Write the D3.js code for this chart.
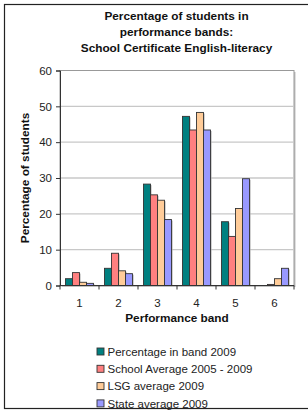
<!DOCTYPE html>
<html>
<head>
<meta charset="utf-8">
<script src="https://cdn.jsdelivr.net/npm/d3@7"></script>
<style>
  body { margin: 0; background: #fff; }
  svg { display: block; font-family: "Liberation Sans", Arial, sans-serif; }
</style>
</head>
<body>
<div id="chart"></div>
<script>
// chart data
var bands = ['1', '2', '3', '4', '5', '6'];
var seriesNames = ['Percentage in band 2009', 'School Average 2005 - 2009', 'LSG average 2009', 'State average 2009'];
var bandPct2009 = [1.9, 4.8, 28.3, 47.2, 17.8, 0];
var schoolAvg = [3.6, 9.0, 25.3, 43.4, 13.7, 0.3];
var lsgAvg = [0.9, 4.1, 23.8, 48.3, 21.5, 1.9];
var stateAvg = [0.6, 3.3, 18.4, 43.4, 29.8, 4.8];
var yTicks = [0, 10, 20, 30, 40, 50, 60];
var colors = ['#008080', '#ff8080', '#ffcc99', '#9999ff'];

var allSeries = [bandPct2009, schoolAvg, lsgAvg, stateAvg];

var width = 308, height = 410;
var margin = { top: 70.5, right: 14, bottom: 125, left: 60 };

var svg = d3.select('#chart').append('svg')
  .attr('width', width)
  .attr('height', height);

// outer frame
svg.append('rect')
  .attr('x', 4.5).attr('y', 4.5)
  .attr('width', 310).attr('height', 404)
  .attr('fill', 'none')
  .attr('stroke', '#222')
  .attr('stroke-width', 1.2);

var x0 = d3.scaleBand()
  .domain(bands)
  .range([margin.left, width - margin.right])
  .paddingInner(0.28)
  .paddingOuter(0.14);

var x1 = d3.scaleBand()
  .domain(d3.range(allSeries.length))
  .range([0, x0.bandwidth()]);

var y = d3.scaleLinear()
  .domain([0, 60])
  .range([285.5, margin.top]);

var plotL = margin.left, plotR = width - margin.right;

// plot area shadow + border
svg.append('rect')
  .attr('x', plotL + 1.5).attr('y', y(60) + 1.5)
  .attr('width', plotR - plotL).attr('height', y(0) - y(60))
  .attr('fill', '#c0c0c0');
svg.append('rect')
  .attr('x', plotL).attr('y', y(60))
  .attr('width', plotR - plotL).attr('height', y(0) - y(60))
  .attr('fill', '#fff')
  .attr('stroke', '#999')
  .attr('stroke-width', 1);

// gridlines
svg.append('g')
  .selectAll('line')
  .data(yTicks.filter(function (d) { return d > 0 && d < 60; }))
  .enter().append('line')
  .attr('x1', plotL).attr('x2', plotR)
  .attr('y1', function (d) { return y(d); })
  .attr('y2', function (d) { return y(d); })
  .attr('stroke', '#c8c8c8')
  .attr('stroke-width', 1.3);

// bars, one group per band
var groups = svg.append('g')
  .selectAll('g')
  .data(bands)
  .enter().append('g')
  .attr('transform', function (d) { return 'translate(' + x0(d) + ',0)'; });

groups.selectAll('rect.shadow')
  .data(function (d, i) { return allSeries.map(function (s, k) { return { k: k, v: s[i] }; }); })
  .enter().append('rect')
  .attr('class', 'shadow')
  .attr('x', function (d) { return x1(d.k) + 1; })
  .attr('y', function (d) { return y(d.v) + 1; })
  .attr('width', x1.bandwidth())
  .attr('height', function (d) { return Math.max(0, y(0) - y(d.v) - 1); })
  .attr('fill', '#aaa');

groups.selectAll('rect.bar')
  .data(function (d, i) { return allSeries.map(function (s, k) { return { k: k, v: s[i] }; }); })
  .enter().append('rect')
  .attr('class', 'bar')
  .attr('x', function (d) { return x1(d.k); })
  .attr('y', function (d) { return y(d.v); })
  .attr('width', x1.bandwidth())
  .attr('height', function (d) { return y(0) - y(d.v); })
  .attr('fill', function (d) { return colors[d.k]; })
  .attr('stroke', '#333')
  .attr('stroke-width', 0.9);

// y axis
var yAxis = svg.append('g')
  .attr('transform', 'translate(' + plotL + ',0)')
  .call(d3.axisLeft(y).tickValues(yTicks).tickSize(4).tickPadding(4));
yAxis.select('.domain').attr('stroke', '#333');
yAxis.selectAll('.tick line').attr('stroke', '#333');
yAxis.selectAll('text').attr('font-size', 11.5).attr('fill', '#222')
  .attr('font-family', '"Liberation Sans", Arial, sans-serif');

// x axis, ticks between bands
var xAxis = svg.append('g')
  .attr('transform', 'translate(0,' + y(0) + ')');
xAxis.append('line')
  .attr('x1', plotL).attr('x2', plotR)
  .attr('stroke', '#333');
xAxis.selectAll('line.tk')
  .data(d3.range(bands.length + 1))
  .enter().append('line')
  .attr('class', 'tk')
  .attr('x1', function (i) { return plotL + i * (plotR - plotL) / bands.length; })
  .attr('x2', function (i) { return plotL + i * (plotR - plotL) / bands.length; })
  .attr('y1', 0).attr('y2', 4)
  .attr('stroke', '#333');
xAxis.selectAll('text')
  .data(bands)
  .enter().append('text')
  .attr('x', function (d) { return x0(d) + x0.bandwidth() / 2; })
  .attr('y', 21)
  .attr('text-anchor', 'middle')
  .attr('font-size', 11.5)
  .attr('fill', '#222')
  .text(function (d) { return d; });

// titles
var title = ['Percentage of students in', 'performance bands:', 'School Certificate English-literacy'];
svg.append('g').selectAll('text')
  .data(title)
  .enter().append('text')
  .attr('x', 176.5)
  .attr('y', function (d, i) { return 20 + i * 16; })
  .attr('text-anchor', 'middle')
  .attr('font-size', 11.8)
  .attr('font-weight', 'bold')
  .attr('fill', '#111')
  .text(function (d) { return d; });

svg.append('text')
  .attr('x', (plotL + plotR) / 2)
  .attr('y', 322)
  .attr('text-anchor', 'middle')
  .attr('font-size', 11.8)
  .attr('font-weight', 'bold')
  .attr('fill', '#111')
  .text('Performance band');

svg.append('text')
  .attr('transform', 'translate(29,' + (y(0) + y(60)) / 2 + ') rotate(-90)')
  .attr('text-anchor', 'middle')
  .attr('font-size', 11.8)
  .attr('font-weight', 'bold')
  .attr('fill', '#111')
  .text('Percentage of students');

// legend
var legend = svg.append('g')
  .selectAll('g')
  .data(seriesNames)
  .enter().append('g')
  .attr('transform', function (d, i) { return 'translate(97,' + (351.5 + i * 17.3) + ')'; });
legend.append('rect')
  .attr('x', 0).attr('y', -3.5)
  .attr('width', 7).attr('height', 7)
  .attr('fill', function (d, i) { return colors[i]; })
  .attr('stroke', '#333')
  .attr('stroke-width', 0.9);
legend.append('text')
  .attr('x', 10.5)
  .attr('y', 4.2)
  .attr('font-size', 11.5)
  .attr('fill', '#222')
  .text(function (d) { return d; });
</script>
</body>
</html>
